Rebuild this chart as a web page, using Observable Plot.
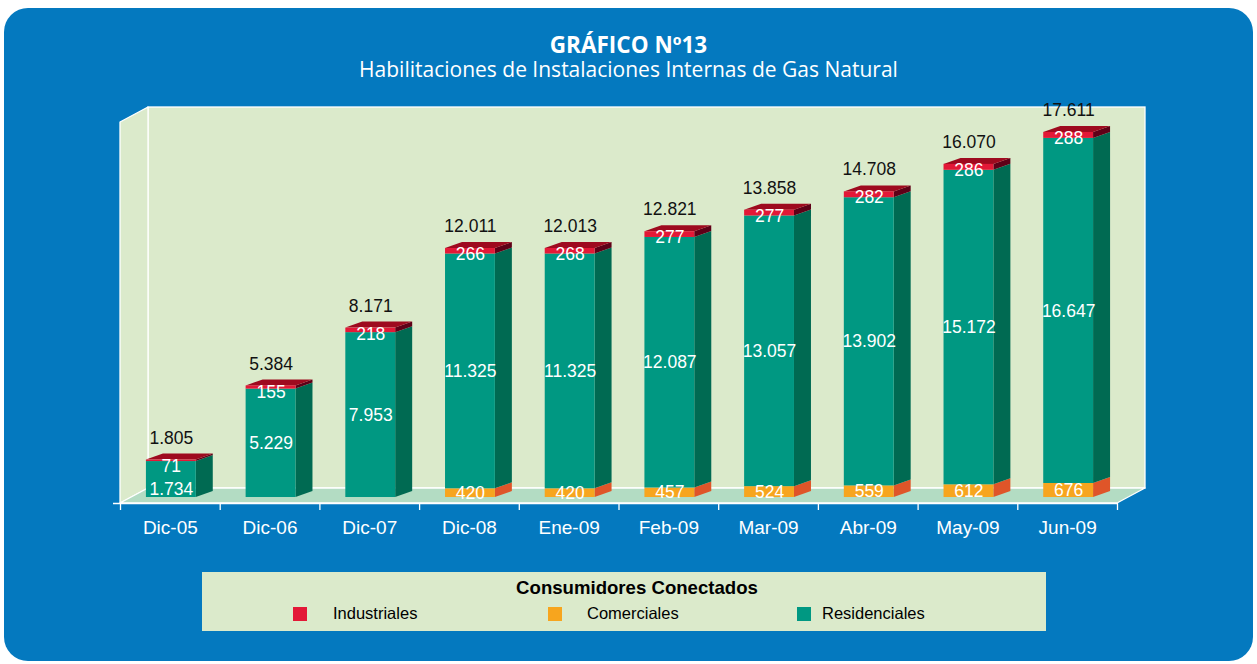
<!DOCTYPE html>
<html><head><meta charset="utf-8">
<script src="https://cdn.jsdelivr.net/npm/d3@7"></script>
<script src="https://cdn.jsdelivr.net/npm/@observablehq/plot@0.6"></script>
<style>
html,body{margin:0;padding:0;background:#fff;}
#wrap{position:relative;width:1257px;height:664px;overflow:hidden;background:#fff;}
#panel{position:absolute;left:4px;top:8px;width:1249px;height:653px;border-radius:24px;background:#0479bf;}
.title{position:absolute;left:0;width:1257px;text-align:center;color:#fff;font-family:"Open Sans",sans-serif;white-space:nowrap;}
#t1{top:34px;font-size:22.5px;font-weight:700;line-height:22px;}
#t2{top:58px;font-size:21px;line-height:22px;}
#chart{position:absolute;left:0;top:0;}
#legend{position:absolute;left:202px;top:572px;width:844px;height:59px;background:#dbeacb;font-family:"Liberation Sans",Arial,sans-serif;color:#000;}
#legend .lt{position:absolute;left:0;width:870px;text-align:center;top:5px;font-size:18.6px;font-weight:700;line-height:22px;}
#legend .sw{position:absolute;top:35px;width:14px;height:14px;}
#legend .lb{position:absolute;top:31px;font-size:16.5px;line-height:20px;}
</style></head>
<body>
<div id="wrap">
  <div id="panel"></div>
  <div class="title" id="t1">GRÁFICO Nº13</div>
  <div class="title" id="t2">Habilitaciones de Instalaciones Internas de Gas Natural</div>
  <div id="chart"></div>
  <div id="legend"></div>
</div>
<script>
// ---- data ----
const categories = ["Dic-05","Dic-06","Dic-07","Dic-08","Ene-09","Feb-09","Mar-09","Abr-09","May-09","Jun-09"];
const industriales = [71,155,218,266,268,277,277,282,286,288];
const comerciales = [0,0,0,420,420,457,524,559,612,676];
const residenciales = [1734,5229,7953,11325,11325,12087,13057,13902,15172,16647];
const totales = [1805,5384,8171,12011,12013,12821,13858,14708,16070,17611];
const seriesNames = ["Industriales","Comerciales","Residenciales"];
const seriesColors = ["#e31837","#f7a51e","#009882"];
const legendTitle = "Consumidores Conectados";

// ---- styles ----
const sideColors = {Industriales:"#5f0018", Comerciales:"#df5529", Residenciales:"#006a52"};
const frontColors = {Industriales:seriesColors[0], Comerciales:seriesColors[1], Residenciales:seriesColors[2]};
const topColor = "#9e0a1f";
const wallColor = "#dbeacb", floorColor = "#b3dcc3";

const fmt = d3.formatLocale({decimal:",",thousands:".",grouping:[3],currency:["",""]}).format(",d");

const W=1257,H=664, mL=120, mR=140, mT=122, mB=161;
const yMin=-289, yMax=18090;
const n = categories.length;
const vpp = (yMax-yMin)/(H-mT-mB);
const upp = n/(W-mL-mR);
const barX0=0.26, barX1=0.76;
const bdx=17*upp, bdy=6*vpp, wdx=28*upp, wdy=15*vpp;

const idx = d3.range(n);
const fronts=[], sides=[], tops=[];
idx.forEach(i=>{
  let base=0;
  const segs=[["Comerciales",comerciales[i]],["Residenciales",residenciales[i]],["Industriales",industriales[i]]];
  for (const [name,val] of segs){
    if(!(val>0)) continue;
    const lo=base, hi=base+val;
    fronts.push({x1:i+barX0,x2:i+barX1,y1:lo,y2:hi,fill:frontColors[name]});
    const key=i+"-"+name;
    sides.push({key,x:i+barX1,y1:lo,y2:hi,fill:sideColors[name]});
    sides.push({key,x:i+barX1+bdx,y1:lo+bdy,y2:hi+bdy,fill:sideColors[name]});
    base=hi;
  }
  const k="t"+i;
  tops.push({key:k,x:i+barX0,y1:base,y2:base});
  tops.push({key:k,x:i+barX0+bdx,y1:base,y2:base+bdy});
  tops.push({key:k,x:i+barX1,y1:base,y2:base+bdy});
  tops.push({key:k,x:i+barX1+bdx,y1:base+bdy,y2:base+bdy});
});
const stackTop = i=>comerciales[i]+residenciales[i]+industriales[i];
// residential label: middle of segment; a short segment gets it near its bottom
const resLabelY = i=>{
  const mid = comerciales[i]+residenciales[i]/2;
  return (residenciales[i]/vpp < 48) ? comerciales[i]+8*vpp : mid;
};

const wallStroke={stroke:"#fff",strokeWidth:1.3};
const font="Liberation Sans, Arial, sans-serif";

const chart = Plot.plot({
  width:W, height:H, marginLeft:mL, marginRight:mR, marginTop:mT, marginBottom:mB,
  x:{type:"linear",domain:[0,n],axis:null},
  y:{type:"linear",domain:[yMin,yMax],axis:null},
  color:{type:"identity"},
  style:{background:"transparent",overflow:"visible",fontFamily:font},
  marks:[
    Plot.rect([0],{x1:()=>wdx,x2:()=>n+wdx,y1:()=>yMin+wdy,y2:()=>yMax+wdy,fill:wallColor,...wallStroke}),
    Plot.areaY([{x:0,y1:yMin,y2:yMax},{x:wdx,y1:yMin+wdy,y2:yMax+wdy}],{x:"x",y1:"y1",y2:"y2",fill:wallColor,...wallStroke}),
    Plot.areaY([{x:0,y1:yMin,y2:yMin},{x:wdx,y1:yMin,y2:yMin+wdy},{x:n,y1:yMin,y2:yMin+wdy},{x:n+wdx,y1:yMin+wdy,y2:yMin+wdy}],{x:"x",y1:"y1",y2:"y2",fill:floorColor,...wallStroke}),
    Plot.ruleY([yMin],{x1:-7*upp,x2:n,stroke:"#fff",strokeWidth:1.5}),
    Plot.ruleX(d3.range(n+1),{x:d=>d,y1:yMin,y2:yMin-7*vpp,stroke:"#fff",strokeWidth:1.3}),
    Plot.areaY(sides,{x:"x",y1:"y1",y2:"y2",z:"key",fill:"fill"}),
    Plot.areaY(tops,{x:"x",y1:"y1",y2:"y2",z:"key",fill:topColor}),
    Plot.rect(fronts,{x1:"x1",x2:"x2",y1:"y1",y2:"y2",fill:"fill"}),
    Plot.text(idx,{x:i=>i+0.5,y:()=>yMin,dy:24,text:i=>categories[i],fill:"#fff",fontSize:19}),
    Plot.text(idx,{x:i=>i+0.51,y:resLabelY,text:i=>fmt(residenciales[i]),fill:"#fff",fontSize:17.5}),
    Plot.text(idx.filter(i=>comerciales[i]>0),{x:i=>i+0.51,y:i=>comerciales[i]/2,text:i=>fmt(comerciales[i]),fill:"#fff",fontSize:17.5}),
    Plot.text(idx,{x:i=>i+0.51,y:stackTop,dy:6,text:i=>fmt(industriales[i]),fill:"#fff",fontSize:17.5}),
    Plot.text(idx,{x:i=>i+0.51,y:stackTop,dy:-22,text:i=>fmt(totales[i]),fill:"#111",fontSize:17.5})
  ]
});
document.getElementById("chart").appendChild(chart);

// legend
const lg=document.getElementById("legend");
const lt=document.createElement("div"); lt.className="lt"; lt.textContent=legendTitle; lg.appendChild(lt);
const swX=[91,346,595], lbX=[131,385,620];
seriesNames.forEach((s,j)=>{
  const sw=document.createElement("div"); sw.className="sw"; sw.style.left=swX[j]+"px"; sw.style.background=seriesColors[j]; lg.appendChild(sw);
  const lb=document.createElement("div"); lb.className="lb"; lb.style.left=lbX[j]+"px"; lb.textContent=s; lg.appendChild(lb);
});
</script>
</body></html>
